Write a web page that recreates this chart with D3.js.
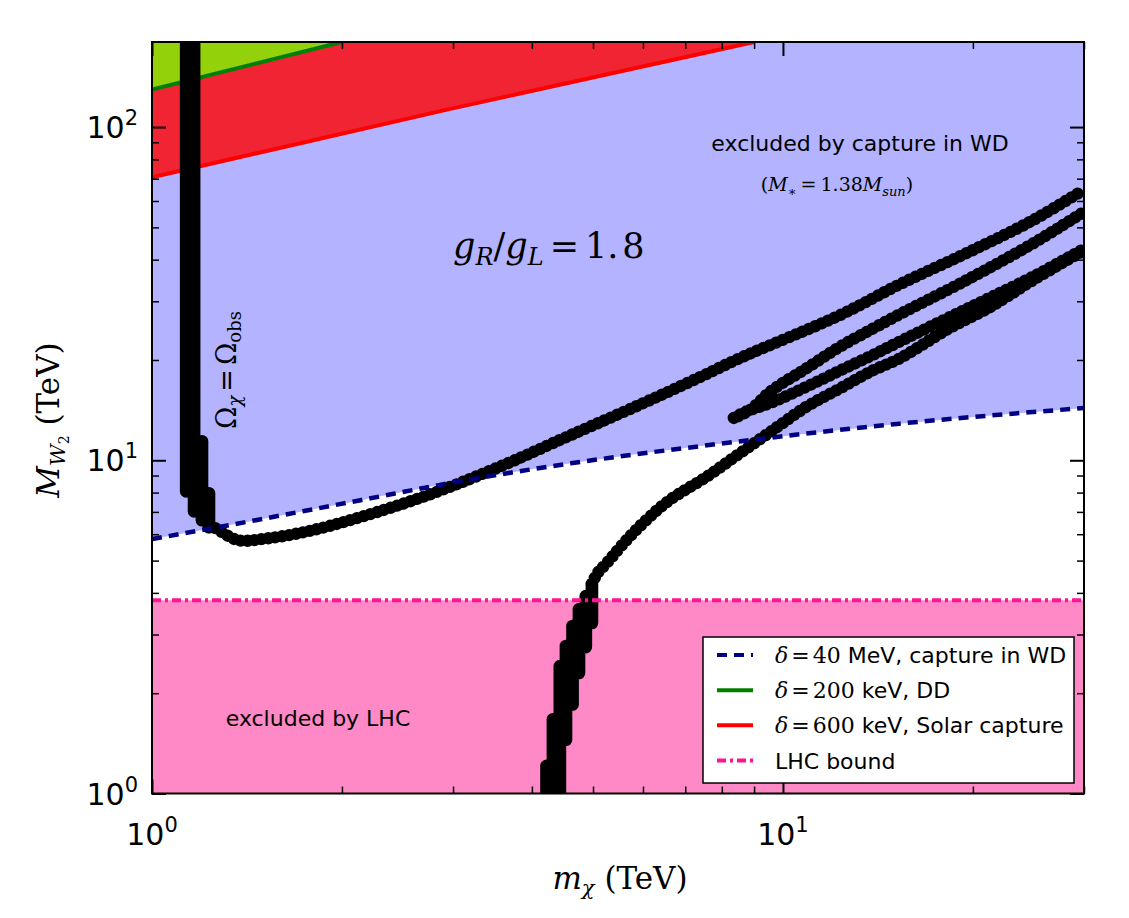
<!DOCTYPE html>
<html lang="en">
<head>
<meta charset="UTF-8">
<title>Relic density, gR/gL = 1.8</title>
<script src="https://cdn.jsdelivr.net/npm/d3@7"></script>
<style>
  body { margin: 0; background: #fff; }
  text { font-family: "DejaVu Sans", sans-serif; fill: #000; }
  .math { font-family: "DejaVu Serif", serif; }
</style>
</head>
<body>
<div id="fig"></div>
<script>
// axis ranges (TeV)
const xDomain = [1, 30];
const yDomain = [1, 180];

// delta = 40 MeV, capture in WD (dashed, lower edge of blue region)
const wdX = [1, 1.46, 2.14, 3.14, 4.61, 7.94, 15.3, 30];
const wdY = [5.80, 6.61, 7.59, 8.71, 9.79, 11.21, 12.88, 14.35];

// delta = 200 keV, DD
const ddX = [1, 2.0];
const ddY = [129.5, 180];

// delta = 600 keV, solar capture
const solarX = [1, 2.97, 9.0];
const solarY = [70.7, 113.4, 180];

// LHC bound
const lhcBound = 3.8;

// relic density Omega_chi = Omega_obs, steep parts as columns [x, yLow, yHigh]
const upperColumns = [[1.133, 8.07, 200], [1.166, 7.03, 200], [1.200, 6.61, 11.40], [1.231, 6.30, 7.96]];
const lowerColumns = [[4.22, 0.95, 1.21], [4.32, 0.95, 1.67], [4.43, 0.95, 2.41], [4.53, 1.45, 2.77],
                      [4.64, 1.85, 3.18], [4.75, 2.30, 3.57], [4.87, 2.75, 3.91], [4.98, 3.25, 4.25]];

// relic density, curved branches
const upperX = [1.231, 1.249, 1.367, 1.514, 1.765, 2.139, 2.762, 3.568, 4.606, 5.949, 7.376, 8.533, 12.29, 15.30, 19.50, 24.86, 29.67];
const upperY = [6.30, 6.30, 5.76, 5.82, 6.12, 6.75, 7.91, 9.59, 11.89, 14.72, 17.74, 20.23, 27.22, 33.71, 41.76, 52.44, 64.07];
const lowerX = [4.98, 5.08, 5.25, 5.65, 6.07, 6.61, 7.56, 8.53, 9.63, 10.88, 12.29, 13.88, 15.30, 18.35, 21.23, 24.86, 29.67];
const lowerY = [4.25, 4.58, 4.90, 5.76, 6.61, 7.59, 8.91, 10.47, 12.30, 14.45, 16.40, 18.60, 20.20, 24.90, 28.70, 34.65, 42.13];
const loopX = [29.67, 24.86, 19.50, 15.30, 13.88, 12.29, 10.88, 9.64, 8.85, 8.33, 8.69, 9.64, 10.88, 12.29, 13.88, 15.30, 19.50, 24.86, 29.67];
const loopY = [54.93, 44.65, 34.65, 27.41, 24.83, 21.87, 18.84, 16.29, 14.13, 13.34, 13.93, 14.96, 16.60, 18.55, 20.70, 22.70, 28.40, 35.50, 42.63];

// legend
const legendLabels = [
  { d: "40", unit: " MeV, capture in WD", color: "#000080", dash: "10,7" },
  { d: "200", unit: " keV, DD", color: "#008000", dash: null },
  { d: "600", unit: " keV, Solar capture", color: "#ff0000", dash: null },
  { d: null, unit: "LHC bound", color: "#ff1493", dash: "9,4,3,4" }
];

const W = 1129, H = 918;
const x = d3.scaleLog().domain(xDomain).range([152, 1084]);
const y = d3.scaleLog().domain(yDomain).range([793.5, 42]);
const pTop = y.range()[1], pBottom = y.range()[0];
const pLeft = x.range()[0], pRight = x.range()[1];
const zip = (xs, ys) => xs.map((v, i) => [v, ys[i]]);

const svg = d3.select("#fig").append("svg").attr("width", W).attr("height", H);
svg.append("defs").append("clipPath").attr("id", "plotClip").append("rect")
    .attr("x", pLeft).attr("y", pTop).attr("width", pRight - pLeft).attr("height", pBottom - pTop);
const plot = svg.append("g").attr("clip-path", "url(#plotClip)");

// filled regions
plot.append("path").datum(zip(wdX, wdY))
    .attr("d", d3.area().x(d => x(d[0])).y0(pTop).y1(d => y(d[1])).curve(d3.curveMonotoneX))
    .attr("fill", "#b3b3ff");
plot.append("path").datum(zip(solarX, solarY))
    .attr("d", d3.area().x(d => x(d[0])).y0(pTop).y1(d => y(d[1])))
    .attr("fill", "rgba(255,0,0,0.8)");
plot.append("path").datum(zip(ddX, ddY))
    .attr("d", d3.area().x(d => x(d[0])).y0(pTop).y1(d => y(d[1])))
    .attr("fill", "rgba(124,252,0,0.8)");
plot.append("rect")
    .attr("x", pLeft).attr("width", pRight - pLeft)
    .attr("y", y(lhcBound)).attr("height", pBottom - y(lhcBound))
    .attr("fill", "rgb(255,136,198)");

const line = d3.line().x(d => x(d[0])).y(d => y(d[1]));
plot.append("path").datum(zip(solarX, solarY)).attr("d", line)
    .attr("fill", "none").attr("stroke", "#ff0000").attr("stroke-width", 4);
plot.append("path").datum(zip(ddX, ddY)).attr("d", line)
    .attr("fill", "none").attr("stroke", "#008000").attr("stroke-width", 4);

// relic density curve (big round markers)
plot.selectAll(".col").data(upperColumns.concat(lowerColumns)).join("line")
    .attr("class", "col")
    .attr("x1", d => x(d[0])).attr("x2", d => x(d[0]))
    .attr("y1", d => y(d[1])).attr("y2", d => y(d[2]))
    .attr("stroke", "#000").attr("stroke-width", 12.7).attr("stroke-linecap", "round");

const relicLine = d3.line().x(d => x(d[0])).y(d => y(d[1])).curve(d3.curveCatmullRom.alpha(0.5));
[zip(upperX, upperY), zip(lowerX, lowerY), zip(loopX, loopY)].forEach(pts => {
    plot.append("path").datum(pts).attr("d", relicLine)
        .attr("fill", "none").attr("stroke", "#000").attr("stroke-width", 12.4)
        .attr("stroke-linecap", "round").attr("stroke-dasharray", "0 7");
});

const wdLine = d3.line().x(d => x(d[0])).y(d => y(d[1])).curve(d3.curveMonotoneX);
plot.append("path").datum(zip(wdX, wdY)).attr("d", wdLine)
    .attr("fill", "none").attr("stroke", "#000080").attr("stroke-width", 4.5).attr("stroke-dasharray", "10,7");
plot.append("line")
    .attr("x1", pLeft).attr("x2", pRight).attr("y1", y(lhcBound)).attr("y2", y(lhcBound))
    .attr("stroke", "#ff1493").attr("stroke-width", 4).attr("stroke-dasharray", "9,4,3,4");

// frame and ticks (inside, on all sides)
svg.append("rect").attr("x", pLeft).attr("y", pTop).attr("width", pRight - pLeft).attr("height", pBottom - pTop)
    .attr("fill", "none").attr("stroke", "#000").attr("stroke-width", 2);

const isMajor = v => Math.abs(Math.log10(v) - Math.round(Math.log10(v))) < 1e-9;
const xMajor = x.ticks().filter(isMajor), xMinor = x.ticks().filter(v => !isMajor(v));
const yMajor = y.ticks().filter(isMajor), yMinor = y.ticks().filter(v => !isMajor(v));

function ticks(axisFn, scale, values, len, width, pos) {
    svg.append("g").attr("transform", pos)
        .call(axisFn(scale).tickValues(values).tickSize(-len).tickSizeOuter(0).tickFormat(""))
        .call(g => g.select(".domain").remove())
        .selectAll("line").attr("stroke", "#000").attr("stroke-width", width);
}
[[xMajor, 14, 2], [xMinor, 7, 1.5]].forEach(([v, l, w]) => {
    ticks(d3.axisBottom, x, v, l, w, `translate(0,${pBottom})`);
    ticks(d3.axisTop, x, v, l, w, `translate(0,${pTop})`);
});
[[yMajor, 14, 2], [yMinor, 7, 1.5]].forEach(([v, l, w]) => {
    ticks(d3.axisLeft, y, v, l, w, `translate(${pLeft},0)`);
    ticks(d3.axisRight, y, v, l, w, `translate(${pRight},0)`);
});

// text helper: parts with optional italic / size / vertical shift (positive = down)
function addParts(text, parts, base) {
    let shift = 0;
    parts.forEach(p => {
        const s = p.shift || 0;
        const ts = text.append("tspan").text(p.t)
            .attr("dy", s - shift)
            .style("font-size", (p.size || base) + "px");
        if (p.it) ts.style("font-style", "italic");
        if (p.sans) ts.style("font-family", '"DejaVu Sans", sans-serif');
        if (p.serif) ts.style("font-family", '"DejaVu Serif", serif');
        if (p.dx) ts.attr("dx", p.dx);
        shift = s;
    });
}

xMajor.forEach(v => {
    const t = svg.append("text").attr("x", x(v)).attr("y", 845).attr("text-anchor", "middle");
    addParts(t, [{ t: "10" }, { t: String(Math.round(Math.log10(v))), size: 21, shift: -13 }], 30);
});
yMajor.forEach(v => {
    const t = svg.append("text").attr("x", 138).attr("y", y(v) + 11).attr("text-anchor", "end");
    addParts(t, [{ t: "10" }, { t: String(Math.round(Math.log10(v))), size: 21, shift: -13 }], 30);
});

// axis titles
const xt = svg.append("text").attr("class", "math").attr("x", 620).attr("y", 889).attr("text-anchor", "middle");
addParts(xt, [{ t: "m", it: true }, { t: "χ", it: true, size: 21, shift: 6 }, { t: " (TeV)" }], 31);
const yt = svg.append("text").attr("class", "math").attr("text-anchor", "middle")
    .attr("transform", "translate(59,420) rotate(-90)");
addParts(yt, [{ t: "M", it: true }, { t: "W", it: true, size: 21, shift: 6 }, { t: "2", size: 14, shift: 10 }, { t: " (TeV)" }], 31);

// annotations
svg.append("text").attr("x", 860).attr("y", 151).attr("text-anchor", "middle")
    .style("font-size", "22px").text("excluded by capture in WD");
const ms = svg.append("text").attr("class", "math").attr("x", 837).attr("y", 191).attr("text-anchor", "middle");
addParts(ms, [{ t: "(" }, { t: "M", it: true }, { t: "∗", size: 13, shift: 5 }, { t: "=", dx: 4 }, { t: "1.38", dx: 4 },
    { t: "M", it: true }, { t: "sun", it: true, size: 13, shift: 5 }, { t: ")" }], 19);

const gr = svg.append("text").attr("class", "math").attr("x", 453).attr("y", 258);
addParts(gr, [{ t: "g", it: true }, { t: "R", it: true, size: 24, shift: 7 }, { t: "/" }, { t: "g", it: true },
    { t: "L", it: true, size: 24, shift: 7 }, { t: "=", dx: 6 }, { t: "1.", dx: 6 }, { t: "8", dx: 4 }], 35);

const om = svg.append("text").attr("class", "math").attr("text-anchor", "middle")
    .attr("transform", "translate(236,370) rotate(-90)");
addParts(om, [{ t: "Ω" }, { t: "χ", it: true, size: 18, shift: 5 }, { t: "=", dx: 4 }, { t: "Ω", dx: 4 },
    { t: "obs", size: 18, shift: 5 }], 27);

svg.append("text").attr("x", 318).attr("y", 726).attr("text-anchor", "middle")
    .style("font-size", "22px").text("excluded by LHC");

// legend
const lg = svg.append("g");
lg.append("rect").attr("x", 703).attr("y", 637).attr("width", 371).attr("height", 146)
    .attr("fill", "#fff").attr("stroke", "#000").attr("stroke-width", 1.5);
const rowY = d3.scalePoint().domain(d3.range(legendLabels.length)).range([655, 760.5]);
legendLabels.forEach((e, i) => {
    const cy = rowY(i);
    lg.append("line").attr("x1", 717).attr("x2", 753).attr("y1", cy).attr("y2", cy)
        .attr("stroke", e.color).attr("stroke-width", 4).attr("stroke-dasharray", e.dash);
    const t = lg.append("text").attr("x", 775).attr("y", cy + 8).style("font-size", "22px");
    if (e.d) {
        addParts(t, [{ t: "δ", it: true, serif: true }, { t: "=", serif: true, dx: 3 }, { t: e.d, serif: true, dx: 3 },
            { t: e.unit, sans: true }], 22);
    } else {
        t.text(e.unit);
    }
});
</script>
</body>
</html>
